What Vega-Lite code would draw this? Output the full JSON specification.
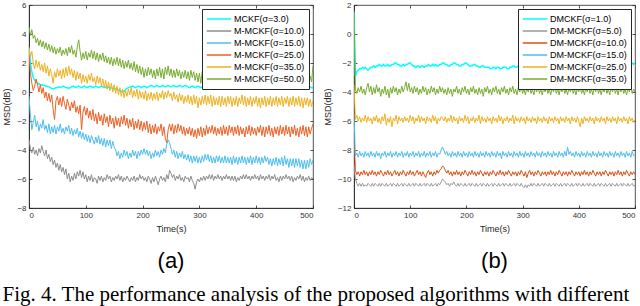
{
"$schema":"https://vega.github.io/schema/vega-lite/v6.json",
"padding":{"left":2,"top":0,"right":0,"bottom":0},
"background":"white",
"title":{"text":"Fig. 4.  The performance analysis of the proposed algorithms with different","orient":"bottom","anchor":"start","font":"Liberation Serif","fontSize":21,"fontWeight":"normal","color":"#000","offset":12},
"config":{
 "view":{"stroke":"#262626","strokeWidth":0.8},
 "axis":{"grid":false,"labelFont":"Liberation Sans","labelFontSize":8,"labelColor":"#333333","titleFont":"Liberation Sans","titleFontSize":9,"titleFontWeight":"normal","titleColor":"#262626","domainColor":"#262626","tickColor":"#262626","tickSize":-3,"labelPadding":6,"titlePadding":5,"domainWidth":0.8,"tickWidth":0.8},
 "legend":{"orient":"top-right","title":null,"symbolType":"stroke","symbolSize":600,"symbolStrokeWidth":1.5,"labelFontSize":9,"labelFont":"Liberation Sans","labelColor":"#000","strokeColor":"#262626","fillColor":"white","padding":4,"rowPadding":0,"clipHeight":12,"offset":4,"labelLimit":200,"labelOffset":2}
},
"datasets":{
"a":[
{"t":0,"c":3.0,"g":-3.3,"b":-0.3,"o":2.6,"y":3.1,"gr":4.5},
{"t":2.5,"c":2.0,"g":-3.9,"b":-1.6,"o":1.3,"y":2.4,"gr":3.9},
{"t":5,"c":1.4,"g":-4.2,"b":-2.6,"o":0.6,"y":2.8,"gr":4.3},
{"t":7.5,"c":1.0,"g":-3.8,"b":-2.1,"o":0.1,"y":2.0,"gr":3.7},
{"t":10,"c":0.8,"g":-4.3,"b":-1.6,"o":0.4,"y":1.6,"gr":3.9},
{"t":12.5,"c":0.7,"g":-4.0,"b":-2.4,"o":0.9,"y":2.2,"gr":3.4},
{"t":15,"c":0.6,"g":-4.4,"b":-2.0,"o":0.5,"y":1.7,"gr":3.7},
{"t":17.5,"c":0.55,"g":-3.9,"b":-2.7,"o":0.0,"y":2.1,"gr":3.2},
{"t":20,"c":0.5,"g":-4.2,"b":-2.2,"o":0.5,"y":1.5,"gr":3.6},
{"t":22.5,"c":0.5,"g":-3.7,"b":-2.5,"o":-0.1,"y":1.9,"gr":3.1},
{"t":25,"c":0.45,"g":-4.1,"b":-1.9,"o":0.3,"y":1.4,"gr":3.5},
{"t":27.5,"c":0.45,"g":-4.4,"b":-2.6,"o":-0.4,"y":2.0,"gr":3.0},
{"t":30,"c":0.4,"g":-4.0,"b":-2.3,"o":0.0,"y":1.3,"gr":3.4},
{"t":32.5,"c":0.4,"g":-4.6,"b":-2.8,"o":-0.6,"y":1.8,"gr":2.9},
{"t":35,"c":0.35,"g":-4.3,"b":-2.2,"o":-0.1,"y":1.1,"gr":3.3},
{"t":37.5,"c":0.3,"g":-4.8,"b":-2.9,"o":-0.7,"y":1.6,"gr":2.8},
{"t":40,"c":0.25,"g":-4.5,"b":-2.4,"o":-0.2,"y":1.2,"gr":3.2},
{"t":42.5,"c":0.2,"g":-5.0,"b":-2.8,"o":-1.2,"y":0.6,"gr":2.7},
{"t":45,"c":0.25,"g":-4.7,"b":-2.3,"o":-1.9,"y":1.4,"gr":3.1},
{"t":47.5,"c":0.3,"g":-5.2,"b":-2.9,"o":-0.6,"y":1.0,"gr":2.6},
{"t":50,"c":0.3,"g":-4.9,"b":-2.4,"o":-0.3,"y":1.6,"gr":3.0},
{"t":52.5,"c":0.35,"g":-5.4,"b":-2.7,"o":-0.9,"y":1.1,"gr":2.7},
{"t":55,"c":0.3,"g":-5.0,"b":-2.2,"o":-0.4,"y":1.5,"gr":3.1},
{"t":57.5,"c":0.35,"g":-5.5,"b":-2.8,"o":-1.0,"y":0.9,"gr":2.5},
{"t":60,"c":0.4,"g":-5.2,"b":-2.5,"o":-0.3,"y":1.6,"gr":2.9},
{"t":62.5,"c":0.35,"g":-5.7,"b":-2.9,"o":-0.8,"y":1.0,"gr":2.6},
{"t":65,"c":0.3,"g":-5.3,"b":-2.4,"o":-1.2,"y":1.7,"gr":3.0},
{"t":67.5,"c":0.3,"g":-6.0,"b":-2.7,"o":-0.5,"y":1.1,"gr":2.5},
{"t":70,"c":0.25,"g":-5.6,"b":-2.3,"o":-0.9,"y":1.8,"gr":3.1},
{"t":72.5,"c":0.3,"g":-6.2,"b":-2.9,"o":-1.3,"y":1.2,"gr":2.7},
{"t":75,"c":0.35,"g":-5.8,"b":-2.5,"o":-0.7,"y":1.6,"gr":3.2},
{"t":77.5,"c":0.4,"g":-6.1,"b":-3.0,"o":-1.1,"y":1.0,"gr":2.6},
{"t":80,"c":0.35,"g":-5.6,"b":-2.6,"o":-0.6,"y":1.5,"gr":2.9},
{"t":82.5,"c":0.3,"g":-6.0,"b":-2.9,"o":-1.4,"y":0.8,"gr":2.4},
{"t":85,"c":0.35,"g":-5.5,"b":-2.5,"o":-1.0,"y":1.4,"gr":3.1},
{"t":87.5,"c":0.4,"g":-5.8,"b":-3.1,"o":-1.5,"y":0.9,"gr":3.6},
{"t":90,"c":0.35,"g":-5.4,"b":-2.7,"o":-0.9,"y":1.3,"gr":2.8},
{"t":92.5,"c":0.3,"g":-5.9,"b":-3.2,"o":-2.6,"y":0.6,"gr":2.2},
{"t":95,"c":0.35,"g":-5.5,"b":-2.8,"o":-1.4,"y":1.2,"gr":2.7},
{"t":97.5,"c":0.4,"g":-6.0,"b":-3.3,"o":-1.0,"y":0.7,"gr":2.3},
{"t":100,"c":0.35,"g":-5.7,"b":-2.9,"o":-1.6,"y":1.1,"gr":2.8},
{"t":102.5,"c":0.3,"g":-6.2,"b":-3.4,"o":-1.1,"y":0.6,"gr":2.2},
{"t":105,"c":0.35,"g":-5.8,"b":-3.0,"o":-1.8,"y":1.2,"gr":2.7},
{"t":107.5,"c":0.4,"g":-6.1,"b":-3.5,"o":-1.3,"y":0.8,"gr":2.4},
{"t":110,"c":0.35,"g":-5.7,"b":-3.0,"o":-1.9,"y":1.3,"gr":2.9},
{"t":112.5,"c":0.3,"g":-6.2,"b":-3.3,"o":-1.2,"y":0.7,"gr":2.3},
{"t":115,"c":0.35,"g":-5.9,"b":-3.6,"o":-2.0,"y":1.0,"gr":2.8},
{"t":117.5,"c":0.4,"g":-6.0,"b":-3.1,"o":-1.5,"y":0.5,"gr":2.2},
{"t":120,"c":0.35,"g":-6.3,"b":-3.5,"o":-2.2,"y":1.1,"gr":2.7},
{"t":122.5,"c":0.3,"g":-5.8,"b":-3.0,"o":-1.4,"y":0.6,"gr":2.1},
{"t":125,"c":0.35,"g":-6.1,"b":-3.6,"o":-2.0,"y":1.0,"gr":2.6},
{"t":127.5,"c":0.4,"g":-5.8,"b":-3.2,"o":-1.6,"y":0.4,"gr":2.2},
{"t":130,"c":0.35,"g":-6.2,"b":-3.7,"o":-2.3,"y":0.9,"gr":2.7},
{"t":132.5,"c":0.3,"g":-5.9,"b":-3.2,"o":-1.5,"y":0.3,"gr":2.1},
{"t":135,"c":0.35,"g":-6.1,"b":-3.8,"o":-2.1,"y":0.8,"gr":2.5},
{"t":137.5,"c":0.3,"g":-5.7,"b":-3.3,"o":-1.7,"y":0.2,"gr":2.0},
{"t":140,"c":0.35,"g":-6.0,"b":-3.7,"o":-2.4,"y":0.7,"gr":2.4},
{"t":142.5,"c":0.3,"g":-5.8,"b":-3.3,"o":-1.6,"y":0.1,"gr":1.9},
{"t":145,"c":0.3,"g":-6.2,"b":-3.9,"o":-2.2,"y":0.6,"gr":2.4},
{"t":147.5,"c":0.25,"g":-5.9,"b":-3.4,"o":-1.8,"y":0.0,"gr":1.8},
{"t":150,"c":0.25,"g":-6.1,"b":-3.8,"o":-2.5,"y":0.5,"gr":2.3},
{"t":152.5,"c":0.2,"g":-5.8,"b":-4.0,"o":-1.7,"y":-0.1,"gr":1.9},
{"t":155,"c":0.2,"g":-6.0,"b":-4.4,"o":-2.3,"y":0.4,"gr":2.4},
{"t":157.5,"c":0.15,"g":-5.7,"b":-4.1,"o":-1.8,"y":-0.2,"gr":1.8},
{"t":160,"c":0.1,"g":-6.1,"b":-4.6,"o":-2.4,"y":0.3,"gr":2.3},
{"t":162.5,"c":0.05,"g":-5.8,"b":-4.2,"o":-1.7,"y":-0.3,"gr":1.7},
{"t":165,"c":0.0,"g":-6.2,"b":-4.5,"o":-2.2,"y":0.2,"gr":2.2},
{"t":167.5,"c":0.05,"g":-5.9,"b":-4.0,"o":-1.6,"y":-0.4,"gr":1.6},
{"t":170,"c":0.15,"g":-6.1,"b":-4.4,"o":-2.3,"y":0.1,"gr":2.1},
{"t":172.5,"c":0.25,"g":-5.8,"b":-4.1,"o":-1.8,"y":-0.3,"gr":1.7},
{"t":175,"c":0.3,"g":-6.0,"b":-4.6,"o":-2.5,"y":0.2,"gr":2.2},
{"t":177.5,"c":0.35,"g":-6.2,"b":-4.2,"o":-1.9,"y":-0.2,"gr":1.6},
{"t":180,"c":0.35,"g":-5.9,"b":-4.5,"o":-2.4,"y":0.3,"gr":2.0},
{"t":182.5,"c":0.4,"g":-6.1,"b":-4.0,"o":-1.8,"y":-0.4,"gr":1.5},
{"t":185,"c":0.35,"g":-5.8,"b":-4.4,"o":-2.6,"y":0.1,"gr":2.1},
{"t":187.5,"c":0.3,"g":-6.2,"b":-4.1,"o":-2.0,"y":-0.3,"gr":1.4},
{"t":190,"c":0.35,"g":-5.9,"b":-4.6,"o":-2.5,"y":0.2,"gr":1.9},
{"t":192.5,"c":0.4,"g":-6.1,"b":-4.1,"o":-1.9,"y":-0.5,"gr":1.3},
{"t":195,"c":0.35,"g":-5.7,"b":-4.4,"o":-2.6,"y":0.1,"gr":1.8},
{"t":197.5,"c":0.3,"g":-6.0,"b":-4.0,"o":-2.0,"y":-0.4,"gr":1.2},
{"t":200,"c":0.35,"g":-5.8,"b":-4.3,"o":-2.7,"y":0.0,"gr":1.7},
{"t":202.5,"c":0.4,"g":-6.1,"b":-3.9,"o":-2.1,"y":-0.5,"gr":1.0},
{"t":205,"c":0.35,"g":-5.9,"b":-4.3,"o":-2.6,"y":0.1,"gr":1.6},
{"t":207.5,"c":0.3,"g":-6.2,"b":-4.0,"o":-2.0,"y":-0.6,"gr":1.1},
{"t":210,"c":0.35,"g":-5.8,"b":-4.4,"o":-2.8,"y":-0.1,"gr":1.7},
{"t":212.5,"c":0.4,"g":-6.0,"b":-4.1,"o":-2.2,"y":-0.5,"gr":1.2},
{"t":215,"c":0.45,"g":-6.3,"b":-4.6,"o":-2.9,"y":0.0,"gr":1.6},
{"t":217.5,"c":0.4,"g":-5.9,"b":-4.2,"o":-2.3,"y":-0.6,"gr":1.0},
{"t":220,"c":0.35,"g":-6.2,"b":-4.5,"o":-2.8,"y":-0.1,"gr":1.5},
{"t":222.5,"c":0.4,"g":-5.8,"b":-4.0,"o":-2.2,"y":-0.5,"gr":0.9},
{"t":225,"c":0.45,"g":-6.1,"b":-4.4,"o":-2.9,"y":0.0,"gr":1.6},
{"t":227.5,"c":0.4,"g":-6.4,"b":-4.1,"o":-2.4,"y":-0.6,"gr":1.1},
{"t":230,"c":0.35,"g":-6.0,"b":-4.5,"o":-2.7,"y":-0.1,"gr":1.7},
{"t":232.5,"c":0.4,"g":-5.8,"b":-4.0,"o":-2.2,"y":-0.4,"gr":1.0},
{"t":235,"c":0.45,"g":-6.1,"b":-4.3,"o":-3.0,"y":0.1,"gr":1.6},
{"t":237.5,"c":0.4,"g":-5.9,"b":-3.9,"o":-2.4,"y":-0.5,"gr":0.9},
{"t":240,"c":0.35,"g":-6.2,"b":-4.2,"o":-3.2,"y":0.0,"gr":1.7},
{"t":242.5,"c":0.4,"g":-5.7,"b":-3.6,"o":-3.5,"y":-0.4,"gr":1.2},
{"t":245,"c":0.45,"g":-6.0,"b":-3.3,"o":-2.6,"y":0.1,"gr":1.8},
{"t":247.5,"c":0.4,"g":-5.4,"b":-3.5,"o":-2.2,"y":-0.3,"gr":1.1},
{"t":250,"c":0.35,"g":-5.6,"b":-3.9,"o":-2.7,"y":-0.1,"gr":1.6},
{"t":252.5,"c":0.4,"g":-5.9,"b":-4.3,"o":-2.2,"y":-0.6,"gr":1.0},
{"t":255,"c":0.45,"g":-5.7,"b":-4.0,"o":-2.9,"y":0.0,"gr":1.5},
{"t":257.5,"c":0.4,"g":-6.1,"b":-4.5,"o":-2.3,"y":-0.5,"gr":1.0},
{"t":260,"c":0.35,"g":-5.8,"b":-4.1,"o":-2.8,"y":-0.2,"gr":1.6},
{"t":262.5,"c":0.4,"g":-6.0,"b":-4.6,"o":-2.2,"y":-0.7,"gr":1.1},
{"t":265,"c":0.45,"g":-5.7,"b":-4.2,"o":-2.7,"y":-0.1,"gr":1.5},
{"t":267.5,"c":0.4,"g":-6.1,"b":-4.5,"o":-2.3,"y":-0.6,"gr":0.9},
{"t":270,"c":0.35,"g":-5.9,"b":-4.1,"o":-2.9,"y":-0.2,"gr":1.4},
{"t":272.5,"c":0.4,"g":-6.2,"b":-4.6,"o":-2.4,"y":-0.8,"gr":1.0},
{"t":275,"c":0.45,"g":-5.8,"b":-4.3,"o":-3.0,"y":-0.3,"gr":1.5},
{"t":277.5,"c":0.4,"g":-6.0,"b":-4.7,"o":-2.5,"y":-0.7,"gr":0.9},
{"t":280,"c":0.35,"g":-5.9,"b":-4.3,"o":-2.9,"y":-0.2,"gr":1.4},
{"t":282.5,"c":0.3,"g":-6.2,"b":-4.8,"o":-2.4,"y":-0.8,"gr":0.8},
{"t":285,"c":0.35,"g":-5.8,"b":-4.4,"o":-3.0,"y":-0.3,"gr":1.5},
{"t":287.5,"c":0.4,"g":-6.1,"b":-4.9,"o":-2.5,"y":-0.9,"gr":1.0},
{"t":290,"c":0.35,"g":-6.3,"b":-4.4,"o":-3.1,"y":-0.2,"gr":1.4},
{"t":292.5,"c":0.3,"g":-6.7,"b":-4.8,"o":-2.6,"y":-0.8,"gr":0.8},
{"t":295,"c":0.35,"g":-6.2,"b":-4.4,"o":-3.2,"y":-0.3,"gr":1.3},
{"t":297.5,"c":0.4,"g":-6.0,"b":-4.9,"o":-2.5,"y":-1.1,"gr":0.7},
{"t":300,"c":0.35,"g":-6.2,"b":-4.5,"o":-3.0,"y":-0.4,"gr":1.3},
{"t":302.5,"c":0.3,"g":-5.9,"b":-4.9,"o":-2.4,"y":-0.9,"gr":0.6},
{"t":305,"c":0.35,"g":-6.1,"b":-4.4,"o":-3.1,"y":-0.3,"gr":1.4},
{"t":307.5,"c":0.4,"g":-5.8,"b":-4.8,"o":-2.5,"y":-0.8,"gr":0.8},
{"t":310,"c":0.35,"g":-6.1,"b":-4.3,"o":-3.0,"y":-0.2,"gr":1.3},
{"t":312.5,"c":0.3,"g":-5.8,"b":-4.7,"o":-2.3,"y":-0.9,"gr":0.7},
{"t":315,"c":0.35,"g":-6.0,"b":-4.3,"o":-2.9,"y":-0.3,"gr":1.4},
{"t":317.5,"c":0.4,"g":-5.7,"b":-4.8,"o":-2.4,"y":-0.8,"gr":0.9},
{"t":320,"c":0.35,"g":-6.0,"b":-4.4,"o":-2.8,"y":-0.2,"gr":1.5},
{"t":322.5,"c":0.3,"g":-5.7,"b":-4.9,"o":-2.3,"y":-1.0,"gr":0.8},
{"t":325,"c":0.35,"g":-6.1,"b":-4.5,"o":-2.9,"y":-0.3,"gr":1.4},
{"t":327.5,"c":0.4,"g":-5.8,"b":-4.9,"o":-2.4,"y":-0.9,"gr":0.7},
{"t":330,"c":0.35,"g":-6.0,"b":-4.4,"o":-3.0,"y":-0.4,"gr":1.3},
{"t":332.5,"c":0.3,"g":-5.7,"b":-4.8,"o":-2.5,"y":-0.9,"gr":0.8},
{"t":335,"c":0.35,"g":-6.0,"b":-4.4,"o":-2.9,"y":-0.3,"gr":1.4},
{"t":337.5,"c":0.4,"g":-5.8,"b":-4.9,"o":-2.4,"y":-1.0,"gr":0.7},
{"t":340,"c":0.35,"g":-6.1,"b":-4.5,"o":-3.0,"y":-0.3,"gr":1.3},
{"t":342.5,"c":0.3,"g":-5.8,"b":-4.9,"o":-2.3,"y":-0.9,"gr":0.8},
{"t":345,"c":0.35,"g":-6.0,"b":-4.4,"o":-2.9,"y":-0.4,"gr":1.4},
{"t":347.5,"c":0.4,"g":-5.7,"b":-4.9,"o":-2.4,"y":-1.0,"gr":0.7},
{"t":350,"c":0.35,"g":-6.0,"b":-4.5,"o":-3.0,"y":-0.3,"gr":1.3},
{"t":352.5,"c":0.3,"g":-5.8,"b":-4.9,"o":-2.3,"y":-0.8,"gr":0.7},
{"t":355,"c":0.35,"g":-6.1,"b":-4.5,"o":-2.8,"y":-0.3,"gr":1.4},
{"t":357.5,"c":0.4,"g":-5.8,"b":-5.0,"o":-2.4,"y":-1.0,"gr":0.8},
{"t":360,"c":0.35,"g":-6.1,"b":-4.4,"o":-3.0,"y":-0.4,"gr":1.3},
{"t":362.5,"c":0.3,"g":-5.8,"b":-4.9,"o":-2.4,"y":-0.9,"gr":0.6},
{"t":365,"c":0.35,"g":-6.2,"b":-4.5,"o":-2.9,"y":-0.3,"gr":1.2},
{"t":367.5,"c":0.4,"g":-5.9,"b":-5.0,"o":-2.3,"y":-1.0,"gr":0.7},
{"t":370,"c":0.35,"g":-6.1,"b":-4.5,"o":-3.0,"y":-0.4,"gr":1.3},
{"t":372.5,"c":0.3,"g":-5.8,"b":-4.9,"o":-2.4,"y":-0.8,"gr":0.6},
{"t":375,"c":0.35,"g":-6.0,"b":-4.4,"o":-2.9,"y":-0.2,"gr":1.4},
{"t":377.5,"c":0.4,"g":-5.7,"b":-4.9,"o":-2.5,"y":-0.9,"gr":0.8},
{"t":380,"c":0.35,"g":-6.0,"b":-4.5,"o":-3.1,"y":-0.3,"gr":1.3},
{"t":382.5,"c":0.3,"g":-5.7,"b":-5.0,"o":-2.4,"y":-1.0,"gr":0.6},
{"t":385,"c":0.35,"g":-6.0,"b":-4.5,"o":-2.9,"y":-0.4,"gr":1.2},
{"t":387.5,"c":0.4,"g":-5.8,"b":-4.9,"o":-2.3,"y":-0.9,"gr":0.7},
{"t":390,"c":0.35,"g":-6.1,"b":-4.4,"o":-3.0,"y":-0.3,"gr":1.3},
{"t":392.5,"c":0.3,"g":-5.8,"b":-5.0,"o":-2.4,"y":-1.0,"gr":0.6},
{"t":395,"c":0.35,"g":-6.0,"b":-4.5,"o":-2.9,"y":-0.4,"gr":1.2},
{"t":397.5,"c":0.4,"g":-5.7,"b":-4.9,"o":-2.5,"y":-0.8,"gr":0.7},
{"t":400,"c":0.35,"g":-6.0,"b":-4.4,"o":-3.0,"y":-0.3,"gr":1.2},
{"t":402.5,"c":0.3,"g":-5.8,"b":-4.9,"o":-2.4,"y":-1.0,"gr":0.5},
{"t":405,"c":0.35,"g":-6.1,"b":-4.5,"o":-2.8,"y":-0.4,"gr":1.1},
{"t":407.5,"c":0.4,"g":-5.7,"b":-5.0,"o":-2.3,"y":-1.1,"gr":0.6},
{"t":410,"c":0.35,"g":-6.0,"b":-4.5,"o":-3.0,"y":-0.4,"gr":1.2},
{"t":412.5,"c":0.3,"g":-5.8,"b":-4.9,"o":-2.4,"y":-0.9,"gr":0.5},
{"t":415,"c":0.35,"g":-6.1,"b":-4.4,"o":-3.1,"y":-0.3,"gr":1.1},
{"t":417.5,"c":0.4,"g":-5.8,"b":-4.8,"o":-2.4,"y":-1.0,"gr":0.6},
{"t":420,"c":0.35,"g":-6.0,"b":-4.5,"o":-2.9,"y":-0.4,"gr":1.2},
{"t":422.5,"c":0.3,"g":-5.7,"b":-5.0,"o":-2.3,"y":-0.9,"gr":0.5},
{"t":425,"c":0.35,"g":-6.1,"b":-4.6,"o":-3.0,"y":-0.3,"gr":1.1},
{"t":427.5,"c":0.4,"g":-5.8,"b":-5.1,"o":-2.5,"y":-1.0,"gr":0.5},
{"t":430,"c":0.35,"g":-6.0,"b":-4.6,"o":-3.1,"y":-0.4,"gr":1.2},
{"t":432.5,"c":0.3,"g":-5.7,"b":-5.0,"o":-2.4,"y":-0.9,"gr":0.4},
{"t":435,"c":0.35,"g":-6.1,"b":-4.5,"o":-2.9,"y":-0.3,"gr":1.1},
{"t":437.5,"c":0.4,"g":-5.9,"b":-5.1,"o":-2.4,"y":-1.0,"gr":0.5},
{"t":440,"c":0.35,"g":-6.2,"b":-4.6,"o":-3.0,"y":-0.4,"gr":1.1},
{"t":442.5,"c":0.3,"g":-5.8,"b":-5.0,"o":-2.3,"y":-0.9,"gr":0.4},
{"t":445,"c":0.35,"g":-6.1,"b":-4.5,"o":-2.9,"y":-0.3,"gr":1.0},
{"t":447.5,"c":0.4,"g":-5.8,"b":-5.1,"o":-2.4,"y":-1.0,"gr":0.5},
{"t":450,"c":0.35,"g":-6.0,"b":-4.4,"o":-3.0,"y":-0.4,"gr":1.1},
{"t":452.5,"c":0.3,"g":-5.7,"b":-5.0,"o":-2.3,"y":-0.8,"gr":0.4},
{"t":455,"c":0.35,"g":-6.0,"b":-4.6,"o":-2.9,"y":-0.3,"gr":1.0},
{"t":457.5,"c":0.4,"g":-5.8,"b":-5.2,"o":-2.4,"y":-1.0,"gr":0.5},
{"t":460,"c":0.35,"g":-6.1,"b":-4.6,"o":-3.1,"y":-0.4,"gr":1.1},
{"t":462.5,"c":0.3,"g":-5.8,"b":-5.1,"o":-2.4,"y":-0.9,"gr":0.4},
{"t":465,"c":0.35,"g":-6.2,"b":-4.6,"o":-2.9,"y":-0.3,"gr":1.0},
{"t":467.5,"c":0.4,"g":-5.9,"b":-5.2,"o":-2.3,"y":-1.0,"gr":0.5},
{"t":470,"c":0.35,"g":-6.1,"b":-4.6,"o":-3.0,"y":-0.4,"gr":1.1},
{"t":472.5,"c":0.3,"g":-5.8,"b":-5.1,"o":-2.5,"y":-0.9,"gr":0.4},
{"t":475,"c":0.35,"g":-6.0,"b":-4.6,"o":-3.1,"y":-0.3,"gr":1.0},
{"t":477.5,"c":0.4,"g":-5.7,"b":-5.2,"o":-2.4,"y":-1.0,"gr":0.5},
{"t":480,"c":0.35,"g":-6.1,"b":-4.7,"o":-2.9,"y":-0.4,"gr":1.1},
{"t":482.5,"c":0.3,"g":-5.8,"b":-5.3,"o":-2.3,"y":-1.1,"gr":0.4},
{"t":485,"c":0.35,"g":-6.2,"b":-4.7,"o":-3.0,"y":-0.4,"gr":1.0},
{"t":487.5,"c":0.4,"g":-5.9,"b":-5.3,"o":-2.4,"y":-0.9,"gr":0.5},
{"t":490,"c":0.35,"g":-6.1,"b":-4.7,"o":-3.1,"y":-0.4,"gr":1.2},
{"t":492.5,"c":0.3,"g":-5.8,"b":-5.2,"o":-2.4,"y":-1.0,"gr":0.4},
{"t":495,"c":0.35,"g":-6.1,"b":-4.6,"o":-2.9,"y":-0.5,"gr":1.1},
{"t":497.5,"c":0.3,"g":-5.9,"b":-5.0,"o":-2.5,"y":-1.0,"gr":0.7},
{"t":500,"c":0.3,"g":-6.0,"b":-4.7,"o":-2.2,"y":-0.6,"gr":1.8}
],
"b":[
{"t":0,"c":1.5,"g":-9.0,"o":-7.0,"b":-5.5,"y":-3.5,"gr":1.6},
{"t":2.5,"c":-2.9,"g":-10.0,"o":-9.4,"b":-8.4,"y":-5.9,"gr":-3.8},
{"t":5,"c":-2.6,"g":-10.3,"o":-9.7,"b":-8.2,"y":-5.6,"gr":-4.1},
{"t":7.5,"c":-2.5,"g":-10.5,"o":-9.5,"b":-8.5,"y":-6.0,"gr":-3.7},
{"t":10,"c":-2.4,"g":-10.3,"o":-9.8,"b":-8.1,"y":-5.7,"gr":-4.0},
{"t":12.5,"c":-2.4,"g":-10.5,"o":-9.5,"b":-8.4,"y":-6.1,"gr":-3.6},
{"t":15,"c":-2.3,"g":-10.3,"o":-9.7,"b":-8.2,"y":-5.8,"gr":-4.1},
{"t":17.5,"c":-2.4,"g":-10.5,"o":-9.4,"b":-8.5,"y":-6.0,"gr":-3.8},
{"t":20,"c":-2.3,"g":-10.4,"o":-9.7,"b":-8.1,"y":-5.6,"gr":-4.2},
{"t":22.5,"c":-2.4,"g":-10.5,"o":-9.5,"b":-8.4,"y":-6.1,"gr":-3.7},
{"t":25,"c":-2.5,"g":-10.3,"o":-9.8,"b":-8.2,"y":-5.7,"gr":-3.4},
{"t":27.5,"c":-2.4,"g":-10.4,"o":-9.5,"b":-8.5,"y":-6.0,"gr":-4.0},
{"t":30,"c":-2.3,"g":-10.5,"o":-9.7,"b":-8.1,"y":-5.8,"gr":-3.6},
{"t":32.5,"c":-2.3,"g":-10.3,"o":-9.4,"b":-8.4,"y":-6.2,"gr":-4.2},
{"t":35,"c":-2.2,"g":-10.5,"o":-9.7,"b":-8.2,"y":-5.7,"gr":-3.7},
{"t":37.5,"c":-2.3,"g":-10.3,"o":-9.5,"b":-8.5,"y":-6.0,"gr":-4.1},
{"t":40,"c":-2.2,"g":-10.4,"o":-9.8,"b":-8.1,"y":-5.6,"gr":-3.5},
{"t":42.5,"c":-2.2,"g":-10.5,"o":-9.5,"b":-8.4,"y":-6.1,"gr":-4.0},
{"t":45,"c":-2.1,"g":-10.3,"o":-9.7,"b":-8.2,"y":-5.8,"gr":-3.7},
{"t":47.5,"c":-2.2,"g":-10.5,"o":-9.4,"b":-8.6,"y":-6.2,"gr":-4.3},
{"t":50,"c":-2.2,"g":-10.3,"o":-9.6,"b":-8.2,"y":-5.7,"gr":-3.8},
{"t":52.5,"c":-2.1,"g":-10.4,"o":-9.8,"b":-8.4,"y":-6.0,"gr":-4.1},
{"t":55,"c":-2.2,"g":-10.5,"o":-9.5,"b":-8.1,"y":-5.5,"gr":-3.6},
{"t":57.5,"c":-2.2,"g":-10.3,"o":-9.7,"b":-8.5,"y":-6.3,"gr":-4.2},
{"t":60,"c":-2.1,"g":-10.5,"o":-9.4,"b":-8.2,"y":-5.8,"gr":-3.8},
{"t":62.5,"c":-2.2,"g":-10.4,"o":-9.7,"b":-8.4,"y":-6.1,"gr":-4.4},
{"t":65,"c":-2.2,"g":-10.3,"o":-9.5,"b":-8.1,"y":-5.7,"gr":-3.7},
{"t":67.5,"c":-2.1,"g":-10.5,"o":-9.8,"b":-8.5,"y":-6.4,"gr":-4.1},
{"t":70,"c":-2.1,"g":-10.3,"o":-9.6,"b":-8.2,"y":-5.8,"gr":-3.6},
{"t":72.5,"c":-2.0,"g":-10.4,"o":-9.4,"b":-8.4,"y":-6.0,"gr":-4.0},
{"t":75,"c":-2.0,"g":-10.5,"o":-9.7,"b":-8.1,"y":-5.6,"gr":-3.7},
{"t":77.5,"c":-2.1,"g":-10.3,"o":-9.5,"b":-8.5,"y":-6.2,"gr":-4.2},
{"t":80,"c":-2.1,"g":-10.5,"o":-9.8,"b":-8.2,"y":-5.7,"gr":-3.8},
{"t":82.5,"c":-2.2,"g":-10.4,"o":-9.5,"b":-8.4,"y":-6.0,"gr":-4.1},
{"t":85,"c":-2.2,"g":-10.3,"o":-9.7,"b":-8.1,"y":-5.8,"gr":-3.6},
{"t":87.5,"c":-2.1,"g":-10.5,"o":-9.4,"b":-8.5,"y":-6.1,"gr":-4.0},
{"t":90,"c":-2.2,"g":-10.3,"o":-9.6,"b":-8.2,"y":-5.7,"gr":-3.7},
{"t":92.5,"c":-2.1,"g":-10.4,"o":-9.8,"b":-8.4,"y":-6.0,"gr":-3.3},
{"t":95,"c":-2.1,"g":-10.5,"o":-9.5,"b":-8.1,"y":-5.8,"gr":-3.9},
{"t":97.5,"c":-2.0,"g":-10.3,"o":-9.7,"b":-8.5,"y":-6.1,"gr":-3.4},
{"t":100,"c":-2.0,"g":-10.5,"o":-9.4,"b":-8.2,"y":-5.6,"gr":-4.0},
{"t":102.5,"c":-2.1,"g":-10.4,"o":-9.7,"b":-8.4,"y":-6.0,"gr":-3.7},
{"t":105,"c":-2.2,"g":-10.3,"o":-9.5,"b":-8.1,"y":-5.7,"gr":-4.1},
{"t":107.5,"c":-2.2,"g":-10.5,"o":-9.8,"b":-8.5,"y":-6.2,"gr":-3.6},
{"t":110,"c":-2.3,"g":-10.3,"o":-9.6,"b":-8.2,"y":-5.8,"gr":-4.0},
{"t":112.5,"c":-2.2,"g":-10.4,"o":-9.4,"b":-8.4,"y":-6.0,"gr":-3.7},
{"t":115,"c":-2.2,"g":-10.5,"o":-9.7,"b":-8.1,"y":-5.6,"gr":-4.2},
{"t":117.5,"c":-2.3,"g":-10.3,"o":-9.5,"b":-8.5,"y":-6.1,"gr":-3.8},
{"t":120,"c":-2.2,"g":-10.5,"o":-9.8,"b":-8.2,"y":-5.7,"gr":-4.1},
{"t":122.5,"c":-2.2,"g":-10.4,"o":-9.5,"b":-8.4,"y":-6.0,"gr":-3.6},
{"t":125,"c":-2.3,"g":-10.3,"o":-9.7,"b":-8.1,"y":-5.8,"gr":-4.0},
{"t":127.5,"c":-2.2,"g":-10.5,"o":-9.9,"b":-8.5,"y":-6.2,"gr":-3.7},
{"t":130,"c":-2.2,"g":-10.3,"o":-9.6,"b":-8.2,"y":-5.7,"gr":-4.2},
{"t":132.5,"c":-2.1,"g":-10.4,"o":-9.4,"b":-8.4,"y":-6.0,"gr":-3.8},
{"t":135,"c":-2.2,"g":-10.5,"o":-9.7,"b":-8.1,"y":-5.8,"gr":-4.1},
{"t":137.5,"c":-2.2,"g":-10.3,"o":-9.5,"b":-8.5,"y":-6.1,"gr":-3.6},
{"t":140,"c":-2.1,"g":-10.5,"o":-9.8,"b":-8.2,"y":-5.6,"gr":-4.0},
{"t":142.5,"c":-2.2,"g":-10.4,"o":-9.5,"b":-8.4,"y":-6.0,"gr":-3.7},
{"t":145,"c":-2.1,"g":-10.3,"o":-9.7,"b":-8.1,"y":-5.7,"gr":-4.2},
{"t":147.5,"c":-2.2,"g":-10.5,"o":-9.4,"b":-8.5,"y":-6.2,"gr":-3.8},
{"t":150,"c":-2.2,"g":-10.3,"o":-9.6,"b":-8.2,"y":-5.8,"gr":-4.1},
{"t":152.5,"c":-2.1,"g":-10.4,"o":-9.4,"b":-8.3,"y":-6.0,"gr":-3.6},
{"t":155,"c":-2.1,"g":-10.2,"o":-9.3,"b":-8.0,"y":-5.7,"gr":-4.0},
{"t":157.5,"c":-2.0,"g":-10.0,"o":-9.1,"b":-7.8,"y":-5.8,"gr":-3.7},
{"t":160,"c":-2.0,"g":-10.1,"o":-9.2,"b":-8.0,"y":-6.0,"gr":-4.1},
{"t":162.5,"c":-2.1,"g":-10.2,"o":-9.4,"b":-8.3,"y":-5.7,"gr":-3.8},
{"t":165,"c":-2.1,"g":-10.4,"o":-9.6,"b":-8.1,"y":-6.1,"gr":-4.2},
{"t":167.5,"c":-2.2,"g":-10.3,"o":-9.4,"b":-8.4,"y":-5.8,"gr":-3.7},
{"t":170,"c":-2.2,"g":-10.5,"o":-9.7,"b":-8.2,"y":-6.0,"gr":-4.1},
{"t":172.5,"c":-2.1,"g":-10.3,"o":-9.5,"b":-8.5,"y":-5.6,"gr":-3.8},
{"t":175,"c":-2.1,"g":-10.4,"o":-9.8,"b":-8.1,"y":-6.1,"gr":-4.3},
{"t":177.5,"c":-2.0,"g":-10.2,"o":-9.5,"b":-8.4,"y":-5.7,"gr":-3.8},
{"t":180,"c":-2.0,"g":-10.4,"o":-9.7,"b":-8.2,"y":-6.0,"gr":-4.0},
{"t":182.5,"c":-2.1,"g":-10.5,"o":-9.4,"b":-8.5,"y":-5.8,"gr":-3.6},
{"t":185,"c":-2.1,"g":-10.3,"o":-9.7,"b":-8.1,"y":-6.2,"gr":-4.1},
{"t":187.5,"c":-2.2,"g":-10.5,"o":-9.5,"b":-8.4,"y":-5.7,"gr":-3.8},
{"t":190,"c":-2.2,"g":-10.3,"o":-9.8,"b":-8.2,"y":-6.0,"gr":-4.2},
{"t":192.5,"c":-2.1,"g":-10.4,"o":-9.5,"b":-8.5,"y":-5.8,"gr":-3.7},
{"t":195,"c":-2.1,"g":-10.5,"o":-9.7,"b":-8.1,"y":-6.1,"gr":-4.0},
{"t":197.5,"c":-2.0,"g":-10.3,"o":-9.4,"b":-8.4,"y":-5.6,"gr":-3.6},
{"t":200,"c":-2.0,"g":-10.5,"o":-9.6,"b":-8.2,"y":-6.0,"gr":-4.1},
{"t":202.5,"c":-2.1,"g":-10.4,"o":-9.8,"b":-8.5,"y":-5.7,"gr":-3.8},
{"t":205,"c":-2.2,"g":-10.3,"o":-9.5,"b":-8.1,"y":-6.2,"gr":-4.2},
{"t":207.5,"c":-2.2,"g":-10.5,"o":-9.7,"b":-8.4,"y":-5.8,"gr":-3.7},
{"t":210,"c":-2.2,"g":-10.3,"o":-9.4,"b":-8.2,"y":-6.0,"gr":-4.0},
{"t":212.5,"c":-2.1,"g":-10.4,"o":-9.7,"b":-8.5,"y":-5.7,"gr":-3.6},
{"t":215,"c":-2.1,"g":-10.5,"o":-9.5,"b":-8.1,"y":-6.1,"gr":-4.1},
{"t":217.5,"c":-2.2,"g":-10.3,"o":-9.8,"b":-8.4,"y":-5.8,"gr":-3.8},
{"t":220,"c":-2.2,"g":-10.5,"o":-9.5,"b":-8.2,"y":-6.0,"gr":-4.2},
{"t":222.5,"c":-2.3,"g":-10.4,"o":-9.7,"b":-8.5,"y":-5.6,"gr":-3.7},
{"t":225,"c":-2.3,"g":-10.3,"o":-9.4,"b":-8.1,"y":-6.2,"gr":-4.1},
{"t":227.5,"c":-2.2,"g":-10.5,"o":-9.6,"b":-8.4,"y":-5.7,"gr":-3.8},
{"t":230,"c":-2.2,"g":-10.3,"o":-9.8,"b":-8.2,"y":-6.0,"gr":-4.3},
{"t":232.5,"c":-2.3,"g":-10.4,"o":-9.5,"b":-8.5,"y":-5.8,"gr":-3.7},
{"t":235,"c":-2.3,"g":-10.5,"o":-9.7,"b":-8.1,"y":-6.1,"gr":-4.0},
{"t":237.5,"c":-2.3,"g":-10.3,"o":-9.5,"b":-8.4,"y":-5.7,"gr":-3.6},
{"t":240,"c":-2.3,"g":-10.5,"o":-9.8,"b":-8.2,"y":-6.0,"gr":-4.1},
{"t":242.5,"c":-2.4,"g":-10.4,"o":-9.5,"b":-8.5,"y":-5.8,"gr":-3.8},
{"t":245,"c":-2.4,"g":-10.3,"o":-9.7,"b":-8.1,"y":-6.2,"gr":-4.2},
{"t":247.5,"c":-2.3,"g":-10.5,"o":-9.4,"b":-8.4,"y":-5.7,"gr":-3.7},
{"t":250,"c":-2.3,"g":-10.3,"o":-9.6,"b":-8.2,"y":-6.0,"gr":-4.0},
{"t":252.5,"c":-2.4,"g":-10.4,"o":-9.8,"b":-8.5,"y":-5.8,"gr":-3.6},
{"t":255,"c":-2.3,"g":-10.5,"o":-9.5,"b":-8.1,"y":-6.1,"gr":-4.1},
{"t":257.5,"c":-2.3,"g":-10.3,"o":-9.7,"b":-8.4,"y":-5.6,"gr":-3.8},
{"t":260,"c":-2.4,"g":-10.5,"o":-9.4,"b":-8.2,"y":-6.0,"gr":-4.2},
{"t":262.5,"c":-2.4,"g":-10.4,"o":-9.7,"b":-8.6,"y":-5.7,"gr":-3.7},
{"t":265,"c":-2.3,"g":-10.3,"o":-9.5,"b":-8.1,"y":-6.2,"gr":-4.0},
{"t":267.5,"c":-2.3,"g":-10.5,"o":-9.8,"b":-8.4,"y":-5.8,"gr":-3.6},
{"t":270,"c":-2.3,"g":-10.3,"o":-9.5,"b":-8.2,"y":-6.0,"gr":-4.1},
{"t":272.5,"c":-2.4,"g":-10.4,"o":-9.7,"b":-8.5,"y":-5.7,"gr":-3.8},
{"t":275,"c":-2.4,"g":-10.5,"o":-9.4,"b":-8.1,"y":-6.1,"gr":-4.2},
{"t":277.5,"c":-2.3,"g":-10.3,"o":-9.6,"b":-8.4,"y":-5.8,"gr":-3.7},
{"t":280,"c":-2.3,"g":-10.5,"o":-9.8,"b":-8.2,"y":-6.0,"gr":-4.0},
{"t":282.5,"c":-2.2,"g":-10.4,"o":-9.5,"b":-8.5,"y":-5.6,"gr":-3.6},
{"t":285,"c":-2.2,"g":-10.3,"o":-9.7,"b":-8.1,"y":-6.2,"gr":-4.1},
{"t":287.5,"c":-2.3,"g":-10.5,"o":-9.5,"b":-8.4,"y":-5.7,"gr":-3.8},
{"t":290,"c":-2.3,"g":-10.3,"o":-9.8,"b":-8.2,"y":-6.0,"gr":-4.2},
{"t":292.5,"c":-2.2,"g":-10.4,"o":-9.5,"b":-8.5,"y":-5.8,"gr":-3.7},
{"t":295,"c":-2.2,"g":-10.5,"o":-9.7,"b":-8.1,"y":-6.1,"gr":-4.0},
{"t":297.5,"c":-2.2,"g":-10.3,"o":-9.4,"b":-8.4,"y":-5.7,"gr":-3.6},
{"t":300,"c":-2.2,"g":-10.5,"o":-9.6,"b":-8.2,"y":-6.0,"gr":-4.1},
{"t":302.5,"c":-2.1,"g":-10.6,"o":-9.8,"b":-8.5,"y":-5.8,"gr":-3.8},
{"t":305,"c":-2.1,"g":-10.4,"o":-9.5,"b":-8.1,"y":-6.2,"gr":-4.2},
{"t":307.5,"c":-2.2,"g":-10.6,"o":-9.9,"b":-8.4,"y":-5.7,"gr":-3.7},
{"t":310,"c":-2.2,"g":-10.4,"o":-9.6,"b":-8.2,"y":-6.0,"gr":-4.0},
{"t":312.5,"c":-2.2,"g":-10.5,"o":-9.4,"b":-8.5,"y":-5.8,"gr":-3.6},
{"t":315,"c":-2.1,"g":-10.3,"o":-9.7,"b":-8.1,"y":-6.1,"gr":-4.1},
{"t":317.5,"c":-2.2,"g":-10.5,"o":-9.5,"b":-8.4,"y":-5.7,"gr":-3.8},
{"t":320,"c":-2.2,"g":-10.3,"o":-9.8,"b":-8.2,"y":-6.0,"gr":-4.2},
{"t":322.5,"c":-2.1,"g":-10.4,"o":-9.5,"b":-8.5,"y":-5.8,"gr":-3.7},
{"t":325,"c":-2.2,"g":-10.5,"o":-9.7,"b":-8.1,"y":-6.2,"gr":-4.0},
{"t":327.5,"c":-2.2,"g":-10.3,"o":-9.4,"b":-8.4,"y":-5.7,"gr":-3.6},
{"t":330,"c":-2.1,"g":-10.5,"o":-9.6,"b":-8.2,"y":-6.0,"gr":-4.1},
{"t":332.5,"c":-2.2,"g":-10.4,"o":-9.8,"b":-8.5,"y":-5.8,"gr":-3.8},
{"t":335,"c":-2.2,"g":-10.3,"o":-9.5,"b":-8.1,"y":-6.1,"gr":-4.2},
{"t":337.5,"c":-2.1,"g":-10.5,"o":-9.7,"b":-8.4,"y":-5.7,"gr":-3.7},
{"t":340,"c":-2.2,"g":-10.3,"o":-9.5,"b":-8.2,"y":-6.0,"gr":-4.0},
{"t":342.5,"c":-2.2,"g":-10.4,"o":-9.8,"b":-8.5,"y":-5.8,"gr":-3.6},
{"t":345,"c":-2.1,"g":-10.5,"o":-9.5,"b":-8.1,"y":-6.2,"gr":-4.1},
{"t":347.5,"c":-2.2,"g":-10.3,"o":-9.7,"b":-8.4,"y":-5.7,"gr":-3.8},
{"t":350,"c":-2.2,"g":-10.5,"o":-9.4,"b":-8.2,"y":-6.0,"gr":-4.2},
{"t":352.5,"c":-2.1,"g":-10.4,"o":-9.7,"b":-8.5,"y":-5.8,"gr":-3.7},
{"t":355,"c":-2.2,"g":-10.3,"o":-9.5,"b":-8.1,"y":-6.1,"gr":-4.0},
{"t":357.5,"c":-2.2,"g":-10.5,"o":-9.8,"b":-8.4,"y":-5.7,"gr":-3.6},
{"t":360,"c":-2.1,"g":-10.3,"o":-9.5,"b":-8.2,"y":-6.0,"gr":-4.1},
{"t":362.5,"c":-2.2,"g":-10.4,"o":-9.7,"b":-8.5,"y":-5.8,"gr":-3.8},
{"t":365,"c":-2.2,"g":-10.5,"o":-9.4,"b":-8.1,"y":-6.2,"gr":-4.2},
{"t":367.5,"c":-2.1,"g":-10.3,"o":-9.6,"b":-8.4,"y":-5.7,"gr":-3.7},
{"t":370,"c":-2.2,"g":-10.5,"o":-9.8,"b":-8.2,"y":-6.0,"gr":-4.0},
{"t":372.5,"c":-2.2,"g":-10.4,"o":-9.5,"b":-8.5,"y":-5.8,"gr":-3.6},
{"t":375,"c":-2.1,"g":-10.3,"o":-9.7,"b":-8.1,"y":-6.1,"gr":-4.1},
{"t":377.5,"c":-2.2,"g":-10.5,"o":-9.5,"b":-8.4,"y":-5.7,"gr":-3.8},
{"t":380,"c":-2.2,"g":-10.3,"o":-9.8,"b":-7.8,"y":-6.0,"gr":-4.2},
{"t":382.5,"c":-2.1,"g":-10.4,"o":-9.5,"b":-8.3,"y":-5.8,"gr":-3.7},
{"t":385,"c":-2.2,"g":-10.5,"o":-9.7,"b":-8.1,"y":-6.2,"gr":-4.0},
{"t":387.5,"c":-2.2,"g":-10.3,"o":-9.4,"b":-8.4,"y":-5.7,"gr":-3.6},
{"t":390,"c":-2.1,"g":-10.5,"o":-9.6,"b":-8.2,"y":-6.0,"gr":-4.1},
{"t":392.5,"c":-2.2,"g":-10.4,"o":-9.8,"b":-8.5,"y":-5.8,"gr":-3.8},
{"t":395,"c":-2.2,"g":-10.3,"o":-9.5,"b":-8.1,"y":-6.1,"gr":-4.2},
{"t":397.5,"c":-2.1,"g":-10.5,"o":-9.7,"b":-8.4,"y":-5.7,"gr":-3.7},
{"t":400,"c":-2.2,"g":-10.3,"o":-9.5,"b":-8.2,"y":-6.0,"gr":-4.0},
{"t":402.5,"c":-2.2,"g":-10.4,"o":-9.8,"b":-8.5,"y":-6.4,"gr":-3.6},
{"t":405,"c":-2.1,"g":-10.5,"o":-9.5,"b":-8.1,"y":-5.8,"gr":-4.1},
{"t":407.5,"c":-2.2,"g":-10.3,"o":-9.7,"b":-8.4,"y":-6.2,"gr":-3.8},
{"t":410,"c":-2.2,"g":-10.5,"o":-9.4,"b":-8.2,"y":-5.7,"gr":-4.2},
{"t":412.5,"c":-2.1,"g":-10.4,"o":-9.7,"b":-8.5,"y":-6.0,"gr":-3.7},
{"t":415,"c":-2.2,"g":-10.3,"o":-9.5,"b":-8.1,"y":-5.8,"gr":-4.0},
{"t":417.5,"c":-2.2,"g":-10.5,"o":-9.8,"b":-8.4,"y":-6.1,"gr":-3.6},
{"t":420,"c":-2.1,"g":-10.3,"o":-9.5,"b":-8.2,"y":-5.7,"gr":-4.1},
{"t":422.5,"c":-2.2,"g":-10.4,"o":-9.7,"b":-8.5,"y":-6.0,"gr":-3.8},
{"t":425,"c":-2.2,"g":-10.5,"o":-9.4,"b":-8.1,"y":-5.8,"gr":-4.2},
{"t":427.5,"c":-2.1,"g":-10.3,"o":-9.6,"b":-8.4,"y":-6.2,"gr":-3.7},
{"t":430,"c":-2.2,"g":-10.5,"o":-9.8,"b":-8.2,"y":-5.7,"gr":-4.0},
{"t":432.5,"c":-2.2,"g":-10.4,"o":-9.5,"b":-8.5,"y":-6.0,"gr":-3.6},
{"t":435,"c":-2.1,"g":-10.3,"o":-9.7,"b":-8.1,"y":-5.8,"gr":-4.1},
{"t":437.5,"c":-2.2,"g":-10.5,"o":-9.5,"b":-8.4,"y":-6.1,"gr":-3.8},
{"t":440,"c":-2.2,"g":-10.3,"o":-9.8,"b":-8.2,"y":-5.7,"gr":-4.2},
{"t":442.5,"c":-2.1,"g":-10.4,"o":-9.5,"b":-8.5,"y":-6.0,"gr":-3.7},
{"t":445,"c":-2.2,"g":-10.5,"o":-9.7,"b":-8.1,"y":-5.8,"gr":-4.0},
{"t":447.5,"c":-2.2,"g":-10.3,"o":-9.4,"b":-8.4,"y":-6.2,"gr":-3.6},
{"t":450,"c":-2.1,"g":-10.5,"o":-9.6,"b":-8.2,"y":-5.7,"gr":-4.1},
{"t":452.5,"c":-2.2,"g":-10.4,"o":-9.8,"b":-8.5,"y":-6.0,"gr":-3.8},
{"t":455,"c":-2.2,"g":-10.3,"o":-9.5,"b":-8.1,"y":-5.8,"gr":-4.2},
{"t":457.5,"c":-2.1,"g":-10.5,"o":-9.7,"b":-8.4,"y":-6.1,"gr":-3.7},
{"t":460,"c":-2.2,"g":-10.3,"o":-9.5,"b":-8.2,"y":-5.7,"gr":-4.0},
{"t":462.5,"c":-2.2,"g":-10.4,"o":-9.8,"b":-8.5,"y":-6.0,"gr":-3.6},
{"t":465,"c":-2.1,"g":-10.5,"o":-9.5,"b":-8.1,"y":-5.8,"gr":-4.1},
{"t":467.5,"c":-2.2,"g":-10.3,"o":-9.7,"b":-8.4,"y":-6.2,"gr":-3.8},
{"t":470,"c":-2.2,"g":-10.5,"o":-9.4,"b":-8.2,"y":-5.7,"gr":-4.2},
{"t":472.5,"c":-2.1,"g":-10.4,"o":-9.7,"b":-8.5,"y":-6.0,"gr":-3.7},
{"t":475,"c":-2.2,"g":-10.3,"o":-9.5,"b":-8.1,"y":-5.8,"gr":-4.0},
{"t":477.5,"c":-2.2,"g":-10.5,"o":-9.8,"b":-8.4,"y":-6.1,"gr":-3.6},
{"t":480,"c":-2.1,"g":-10.3,"o":-9.5,"b":-8.2,"y":-5.7,"gr":-4.1},
{"t":482.5,"c":-2.1,"g":-10.4,"o":-9.7,"b":-8.5,"y":-6.0,"gr":-3.8},
{"t":485,"c":-2.1,"g":-10.5,"o":-9.4,"b":-8.1,"y":-5.8,"gr":-4.2},
{"t":487.5,"c":-2.0,"g":-10.3,"o":-9.6,"b":-8.4,"y":-6.2,"gr":-3.7},
{"t":490,"c":-2.1,"g":-10.5,"o":-9.8,"b":-8.2,"y":-5.7,"gr":-4.0},
{"t":492.5,"c":-2.0,"g":-10.4,"o":-9.5,"b":-8.5,"y":-6.0,"gr":-3.6},
{"t":495,"c":-2.0,"g":-10.3,"o":-9.7,"b":-8.1,"y":-5.8,"gr":-4.1},
{"t":497.5,"c":-2.1,"g":-10.5,"o":-9.5,"b":-8.4,"y":-6.1,"gr":-3.8},
{"t":500,"c":-2.0,"g":-10.4,"o":-9.7,"b":-8.3,"y":-5.9,"gr":-4.0}
]
},
"hconcat":[
{
 "width":284,"height":203,
 "title":{"text":"(a)","orient":"bottom","fontSize":22,"font":"Liberation Sans","fontWeight":"normal","color":"#000","offset":18},
 "data":{"name":"a"},
 "transform":[
  {"fold":["c","g","b","o","y","gr"],"as":["k","v"]},
  {"calculate":"datum.k=='c'?'MCKF(σ=3.0)':datum.k=='g'?'M-MCKF(σ=10.0)':datum.k=='b'?'M-MCKF(σ=15.0)':datum.k=='o'?'M-MCKF(σ=25.0)':datum.k=='y'?'M-MCKF(σ=35.0)':'M-MCKF(σ=50.0)'","as":"s"}
 ],
 "layer":[
  {
   "mark":{"type":"line","clip":true},
   "encoding":{
    "x":{"field":"t","type":"quantitative","scale":{"domain":[0,500],"nice":false},"axis":{"title":"Time(s)","values":[0,100,200,300,400,500]}},
    "y":{"field":"v","type":"quantitative","scale":{"domain":[-8,6],"nice":false},"axis":{"title":"MSD(dB)","values":[-8,-6,-4,-2,0,2,4,6]}},
    "color":{"field":"s","type":"nominal","scale":{"domain":["MCKF(σ=3.0)","M-MCKF(σ=10.0)","M-MCKF(σ=15.0)","M-MCKF(σ=25.0)","M-MCKF(σ=35.0)","M-MCKF(σ=50.0)"],"range":["#00FFFF","#8C8C8C","#4DBEEE","#EC6126","#EDB120","#77AC30"]}},
    "strokeWidth":{"condition":{"test":"datum.k=='c'","value":1.5},"value":1.0}
   }
  },
  {
   "mark":{"type":"point","opacity":0},
   "encoding":{
    "x":{"field":"t","type":"quantitative","axis":{"orient":"top","labels":false,"title":null,"domain":false,"values":[0,100,200,300,400,500]}},
    "y":{"field":"v","type":"quantitative","axis":{"orient":"right","labels":false,"title":null,"domain":false,"values":[-8,-6,-4,-2,0,2,4,6]}}
   }
  }
 ],
 "resolve":{"axis":{"x":"independent","y":"independent"}}
},
{
 "width":281,"height":203,
 "title":{"text":"(b)","orient":"bottom","fontSize":22,"font":"Liberation Sans","fontWeight":"normal","color":"#000","offset":18},
 "data":{"name":"b"},
 "transform":[
  {"fold":["c","g","o","b","y","gr"],"as":["k","v"]},
  {"calculate":"datum.k=='c'?'DMCKF(σ=1.0)':datum.k=='g'?'DM-MCKF(σ=5.0)':datum.k=='o'?'DM-MCKF(σ=10.0)':datum.k=='b'?'DM-MCKF(σ=15.0)':datum.k=='y'?'DM-MCKF(σ=25.0)':'DM-MCKF(σ=35.0)'","as":"s"}
 ],
 "layer":[
  {
   "mark":{"type":"line","clip":true},
   "encoding":{
    "x":{"field":"t","type":"quantitative","scale":{"domain":[0,500],"nice":false},"axis":{"title":"Time(s)","values":[0,100,200,300,400,500]}},
    "y":{"field":"v","type":"quantitative","scale":{"domain":[-12,2],"nice":false},"axis":{"title":"MSD(dB)","values":[-12,-10,-8,-6,-4,-2,0,2]}},
    "color":{"field":"s","type":"nominal","scale":{"domain":["DMCKF(σ=1.0)","DM-MCKF(σ=5.0)","DM-MCKF(σ=10.0)","DM-MCKF(σ=15.0)","DM-MCKF(σ=25.0)","DM-MCKF(σ=35.0)"],"range":["#00FFFF","#999999","#D95319","#4DBEEE","#EDB120","#77AC30"]}},
    "strokeWidth":{"condition":{"test":"datum.k=='c'","value":1.5},"value":1.0}
   }
  },
  {
   "mark":{"type":"point","opacity":0},
   "encoding":{
    "x":{"field":"t","type":"quantitative","axis":{"orient":"top","labels":false,"title":null,"domain":false,"values":[0,100,200,300,400,500]}},
    "y":{"field":"v","type":"quantitative","axis":{"orient":"right","labels":false,"title":null,"domain":false,"values":[-12,-10,-8,-6,-4,-2,0,2]}}
   }
  }
 ],
 "resolve":{"axis":{"x":"independent","y":"independent"}}
}
],
"spacing":6,
"resolve":{"scale":{"color":"independent"},"legend":{"color":"independent"}}
}
